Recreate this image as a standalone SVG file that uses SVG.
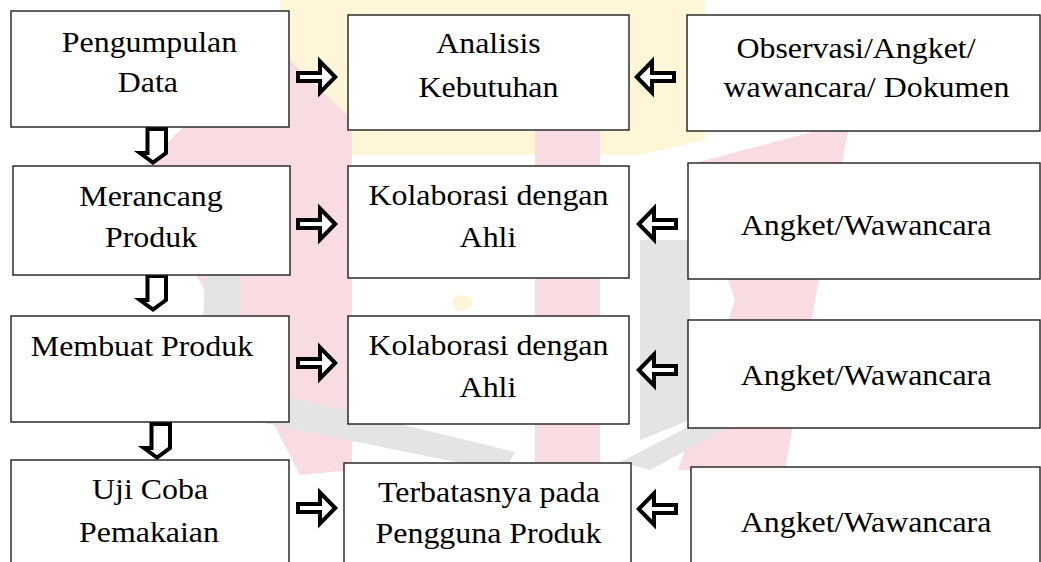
<svg xmlns="http://www.w3.org/2000/svg" width="1041" height="562" viewBox="0 0 1041 562">
  <style>
    .box { fill: #ffffff; stroke: #1e1e1e; stroke-width: 1.4; }
    .lbl { font-family: "Liberation Serif", "Times New Roman", serif; font-size: 29px; fill: #000000; text-anchor: middle; }
    .arr { fill: #ffffff; stroke: #000000; stroke-width: 4; stroke-linejoin: miter; stroke-miterlimit: 10; }
    .wm-pink { fill: #f9dbe2; }
    .wm-yellow { fill: #fff6d8; }
    .wm-gray { fill: #e4e4e4; }
  </style>
  <defs>
    <!-- hollow block arrows, drawn at the origin and placed with transforms -->
    <path id="arrowRight" class="arr" d="M2,-4 H24 V-15.5 L39.2,0 L24,15.5 V4 H2 Z"/>
    <path id="arrowDown" class="arr" d="M-5.5,2 V26 H-13 L0,35.5 L13,26 V2 Z"/>
  </defs>

  <rect width="1041" height="562" fill="#ffffff"/>

  <!-- faint background emblem -->
  <g id="emblem">
    <polygon class="wm-yellow" points="280,0 705,0 705,140 640,155 345,155 285,130"/>
    <polygon class="wm-pink" points="200,110 290,60 352,120 352,470 300,475 215,310 140,170"/>
    <rect class="wm-pink" x="535" y="120" width="65" height="350"/>
    <polygon class="wm-pink" points="688,165 850,122 815,300 785,470 678,470 735,300"/>
    <polygon class="wm-gray" points="205,270 240,270 240,385 515,452 505,472 200,410"/>
    <polygon class="wm-gray" points="640,240 690,240 690,420 640,440"/>
    <polygon class="wm-gray" points="760,390 780,400 650,470 620,462"/>
    <ellipse class="wm-yellow" cx="462" cy="303" rx="10" ry="8"/>
  </g>

  <g id="connectors">
    <!-- downward steps in the left column -->
    <use href="#arrowDown" transform="translate(153,127)"/>
    <use href="#arrowDown" transform="translate(153,274)"/>
    <use href="#arrowDown" transform="translate(157,422)"/>
    <!-- left column to middle column -->
    <use href="#arrowRight" transform="translate(296,77)"/>
    <use href="#arrowRight" transform="translate(296,224)"/>
    <use href="#arrowRight" transform="translate(296,363)"/>
    <use href="#arrowRight" transform="translate(296,508)"/>
    <!-- right column to middle column -->
    <use href="#arrowRight" transform="translate(676,77) scale(-1,1)"/>
    <use href="#arrowRight" transform="translate(678,224) scale(-1,1)"/>
    <use href="#arrowRight" transform="translate(678,370) scale(-1,1)"/>
    <use href="#arrowRight" transform="translate(678,509) scale(-1,1)"/>
  </g>

  <!-- left column -->
  <g id="pengumpulan-data">
    <rect class="box" x="11" y="11" width="278" height="116"/>
    <text class="lbl" transform="scale(1.1,1)" x="135.9" y="52">Pengumpulan</text>
    <text class="lbl" transform="scale(1.1,1)" x="134.5" y="92">Data</text>
  </g>
  <g id="merancang-produk">
    <rect class="box" x="13" y="166" width="277" height="109"/>
    <text class="lbl" transform="scale(1.1,1)" x="137.3" y="206">Merancang</text>
    <text class="lbl" transform="scale(1.1,1)" x="137.3" y="247">Produk</text>
  </g>
  <g id="membuat-produk">
    <rect class="box" x="11" y="316" width="278" height="106"/>
    <text class="lbl" transform="scale(1.1,1)" x="129.1" y="356">Membuat Produk</text>
  </g>
  <g id="uji-coba">
    <rect class="box" x="11" y="460" width="278" height="110"/>
    <text class="lbl" transform="scale(1.1,1)" x="136.4" y="499">Uji Coba</text>
    <text class="lbl" transform="scale(1.1,1)" x="135.5" y="542">Pemakaian</text>
  </g>

  <!-- middle column -->
  <g id="analisis-kebutuhan">
    <rect class="box" x="348" y="15" width="281" height="115"/>
    <text class="lbl" transform="scale(1.1,1)" x="444.1" y="53">Analisis</text>
    <text class="lbl" transform="scale(1.1,1)" x="444.1" y="97">Kebutuhan</text>
  </g>
  <g id="kolaborasi-ahli-1">
    <rect class="box" x="348" y="166" width="281" height="112"/>
    <text class="lbl" transform="scale(1.1,1)" x="444.1" y="205">Kolaborasi dengan</text>
    <text class="lbl" transform="scale(1.1,1)" x="443.6" y="247">Ahli</text>
  </g>
  <g id="kolaborasi-ahli-2">
    <rect class="box" x="348" y="316" width="281" height="108"/>
    <text class="lbl" transform="scale(1.1,1)" x="444.1" y="355">Kolaborasi dengan</text>
    <text class="lbl" transform="scale(1.1,1)" x="443.6" y="397">Ahli</text>
  </g>
  <g id="terbatasnya">
    <rect class="box" x="344" y="463" width="287" height="110"/>
    <text class="lbl" transform="scale(1.1,1)" x="444.5" y="502">Terbatasnya pada</text>
    <text class="lbl" transform="scale(1.1,1)" x="444.1" y="543">Pengguna Produk</text>
  </g>

  <!-- right column -->
  <g id="observasi">
    <rect class="box" x="687" y="15" width="353" height="116"/>
    <text class="lbl" transform="scale(1.1,1)" x="778.2" y="58">Observasi/Angket/</text>
    <text class="lbl" transform="scale(1.1,1)" x="787.7" y="97">wawancara/ Dokumen</text>
  </g>
  <g id="angket-1">
    <rect class="box" x="688" y="163" width="352" height="116"/>
    <text class="lbl" transform="scale(1.1,1)" x="787.3" y="235">Angket/Wawancara</text>
  </g>
  <g id="angket-2">
    <rect class="box" x="688" y="320" width="352" height="108"/>
    <text class="lbl" transform="scale(1.1,1)" x="787.3" y="385">Angket/Wawancara</text>
  </g>
  <g id="angket-3">
    <rect class="box" x="691" y="467" width="349" height="106"/>
    <text class="lbl" transform="scale(1.1,1)" x="787.3" y="532">Angket/Wawancara</text>
  </g>
</svg>
